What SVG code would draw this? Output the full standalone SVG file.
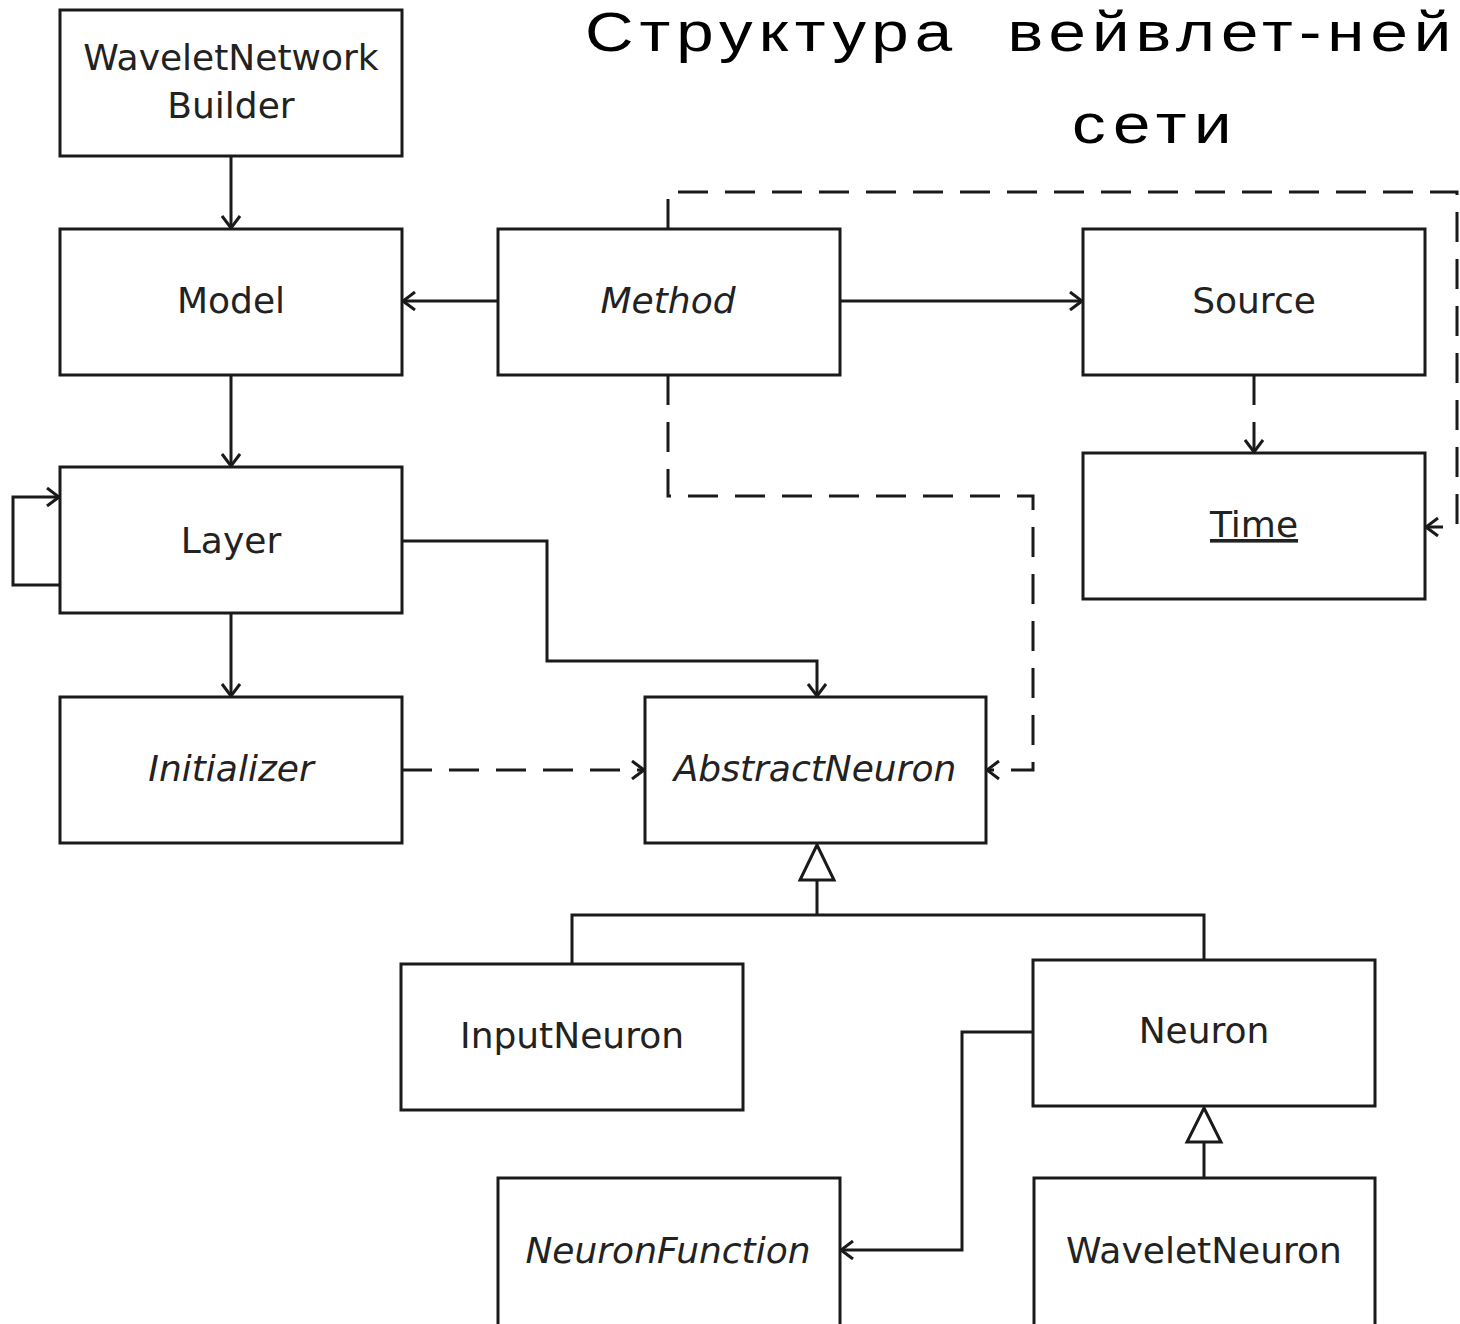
<svg xmlns="http://www.w3.org/2000/svg" width="1460" height="1324" viewBox="0 0 1460 1324">
<style>
.box{fill:#fff;stroke:#1a1a1a;stroke-width:3}
.lbl{font-family:"DejaVu Sans","Liberation Sans",sans-serif;font-size:36px;fill:#222;text-anchor:middle}
.it{font-style:italic}
.ln{fill:none;stroke:#1a1a1a;stroke-width:3}
.dash{stroke-dasharray:30 17}
.title{font-family:"Liberation Sans",Arial,sans-serif;font-size:56px;fill:#000;white-space:pre}
</style>
<defs>
<marker id="arr" viewBox="0 0 14 20" refX="13" refY="10" markerWidth="14" markerHeight="20" markerUnits="userSpaceOnUse" orient="auto">
<path d="M1,1 L13,10 L1,19" fill="none" stroke="#1a1a1a" stroke-width="3" stroke-dasharray="none"/>
</marker>
</defs>
<rect width="1460" height="1324" fill="#fff"/>
<g id="title">
<text class="title" transform="translate(585,51) scale(1.2,1)" x="0" y="0" textLength="722" lengthAdjust="spacing">Структура  вейвлет-ней</text>
<text class="title" transform="translate(1072,143) scale(1.2,1)" x="0" y="0" textLength="133" lengthAdjust="spacing">сети</text>
</g>
<g id="connectors">
<path class="ln" d="M231,156 V228" marker-end="url(#arr)"/>
<path class="ln" d="M231,375 V466" marker-end="url(#arr)"/>
<path class="ln" d="M498,301 H403" marker-end="url(#arr)"/>
<path class="ln" d="M840,301 H1082" marker-end="url(#arr)"/>
<path class="ln dash" d="M1254,375 V452" marker-end="url(#arr)"/>
<path class="ln dash" d="M668,229 V192 H1457 V527 H1426" marker-end="url(#arr)"/>
<path class="ln dash" d="M668,375 V496 H1033 V770 H987" marker-end="url(#arr)"/>
<path class="ln" d="M402,541 H547 V661 H817 V696" marker-end="url(#arr)"/>
<path class="ln" d="M60,585 H13 V497 H59" marker-end="url(#arr)"/>
<path class="ln" d="M231,613 V696" marker-end="url(#arr)"/>
<path class="ln dash" d="M402,770 H644" marker-end="url(#arr)"/>
<path class="ln" d="M572,964 V915 H1204 V960 M817,915 V880"/>
<path class="ln" d="M817,845 L834,880 L800,880 Z" fill="#fff" stroke-linejoin="miter"/>
<path class="ln" d="M1033,1032 H962 V1250 H841" marker-end="url(#arr)"/>
<path class="ln" d="M1204,1178 V1142"/>
<path class="ln" d="M1204,1108 L1221,1142 L1187,1142 Z" fill="#fff"/>
</g>
<g id="builder"><rect class="box" x="60" y="10" width="342" height="146"/><text class="lbl" x="231" y="70">WaveletNetwork</text><text class="lbl" x="231" y="118">Builder</text></g>
<g id="model"><rect class="box" x="60" y="229" width="342" height="146"/><text class="lbl" x="231" y="313">Model</text></g>
<g id="method"><rect class="box" x="498" y="229" width="342" height="146"/><text class="lbl it" x="668" y="313">Method</text></g>
<g id="source"><rect class="box" x="1083" y="229" width="342" height="146"/><text class="lbl" x="1254" y="313">Source</text></g>
<g id="layer"><rect class="box" x="60" y="467" width="342" height="146"/><text class="lbl" x="231" y="553">Layer</text></g>
<g id="time"><rect class="box" x="1083" y="453" width="342" height="146"/><text class="lbl" x="1254" y="537" text-decoration="underline">Time</text></g>
<g id="initializer"><rect class="box" x="60" y="697" width="342" height="146"/><text class="lbl it" x="231" y="781">Initializer</text></g>
<g id="abstractneuron"><rect class="box" x="645" y="697" width="341" height="146"/><text class="lbl it" x="815" y="781">AbstractNeuron</text></g>
<g id="inputneuron"><rect class="box" x="401" y="964" width="342" height="146"/><text class="lbl" x="572" y="1048">InputNeuron</text></g>
<g id="neuron"><rect class="box" x="1033" y="960" width="342" height="146"/><text class="lbl" x="1204" y="1043">Neuron</text></g>
<g id="neuronfunction"><rect class="box" x="498" y="1178" width="342" height="150"/><text class="lbl it" x="668" y="1263">NeuronFunction</text></g>
<g id="waveletneuron"><rect class="box" x="1034" y="1178" width="341" height="150"/><text class="lbl" x="1204" y="1263">WaveletNeuron</text></g>
</svg>
